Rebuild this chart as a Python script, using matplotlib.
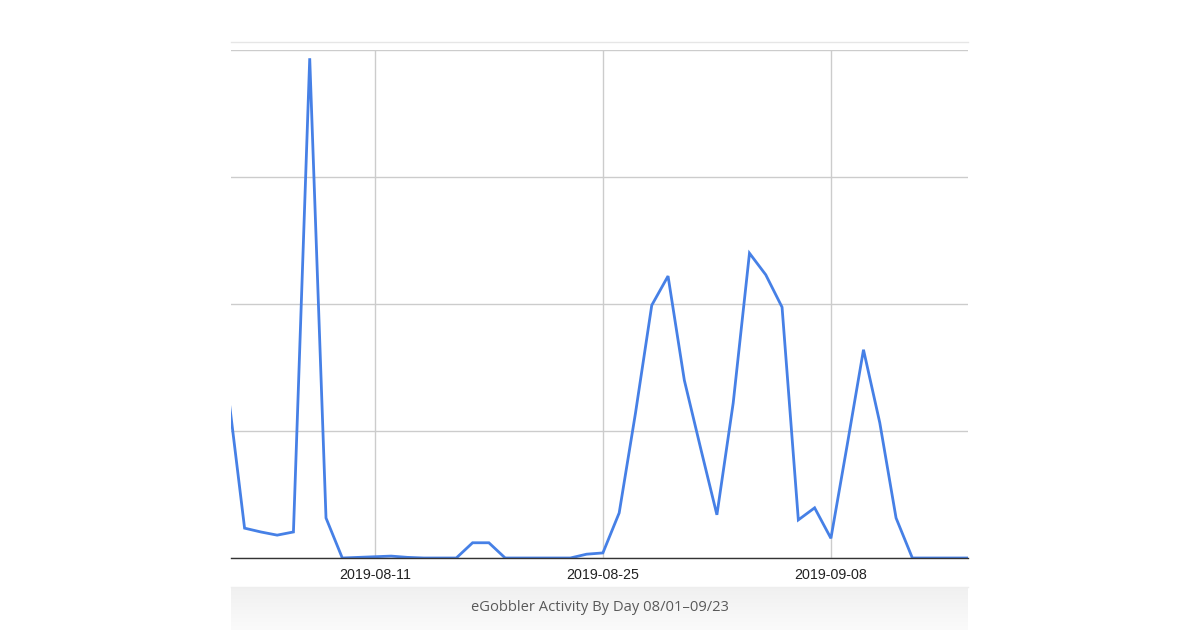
import numpy as np
import pandas as pd
import matplotlib
matplotlib.use("Agg")
import matplotlib.pyplot as plt
from matplotlib.lines import Line2D

# daily activity (arbitrary units: one grid step = 20)
dates = pd.date_range("2019-08-02", "2019-09-17", freq="D")
activity = [
    25.8, 4.7, 4.1, 3.6, 4.1, 78.7, 6.3, 0.0, 0.1, 0.2,
    0.3, 0.1, 0.0, 0.0, 0.0, 2.4, 2.4, 0.0, 0.0, 0.0,
    0.0, 0.0, 0.6, 0.8, 7.1, 22.8, 39.8, 44.4, 28.0, 17.3,
    6.8, 24.4, 48.0, 44.6, 39.5, 6.0, 7.9, 3.1, 17.8, 32.8,
    21.3, 6.3, 0.0, 0.0, 0.0, 0.0, 0.0,
]
tick_dates = ["2019-08-11", "2019-08-25", "2019-09-08"]
caption = "eGobbler Activity By Day 08/01\u201309/23"

fig = plt.figure(figsize=(12, 6.3), dpi=100)
W, H = 1200, 630

# caption band with faint gradient
band = fig.add_axes([231 / W, 0, 737 / W, (630 - 587) / H])
grad = np.linspace(0, 1, 50).reshape(-1, 1)
band.imshow(grad, aspect="auto", cmap=matplotlib.colors.LinearSegmentedColormap.from_list(
    "g", ["#f0f0f0", "#fbfbfb"]), extent=[0, 1, 0, 1])
band.set_axis_off()
band.text(0.5, 0.52, caption, ha="center", va="center", fontsize=10.6,
          color="#595959", family="Open Sans", transform=band.transAxes)

ax = fig.add_axes([231 / W, 1 - 558 / H, 737 / W, (558 - 50) / H])
ax.plot(dates, activity, color="#4680e6", lw=2.0, solid_joinstyle="miter", zorder=3)

ax.set_ylim(0, 80)
ax.set_xlim(pd.Timestamp("2019-08-02") + pd.Timedelta(hours=4), pd.Timestamp("2019-09-16") + pd.Timedelta(hours=10))
ax.set_yticks([0, 20, 40, 60, 80])
ax.set_yticklabels([])
ax.set_xticks(pd.to_datetime(tick_dates))
ax.set_xticklabels(tick_dates, fontsize=10.3, color="#222222", family="Liberation Sans")
ax.tick_params(length=0, pad=7)
ax.grid(True, color="#cccccc", lw=1)
ax.set_axisbelow(True)
for s in ["top", "right", "left"]:
    ax.spines[s].set_visible(False)
ax.spines["bottom"].set_color("#333333")
ax.spines["bottom"].set_linewidth(1)
ax.spines["bottom"].set_zorder(4)

# faint frame lines from the screenshot
fig.add_artist(Line2D([231 / W, 968 / W], [1 - 42 / H, 1 - 42 / H], color="#e6e6e6", lw=1))
fig.add_artist(Line2D([231 / W, 968 / W], [1 - 587 / H, 1 - 587 / H], color="#eeeeee", lw=1))

fig.savefig("out.png", dpi=100)
